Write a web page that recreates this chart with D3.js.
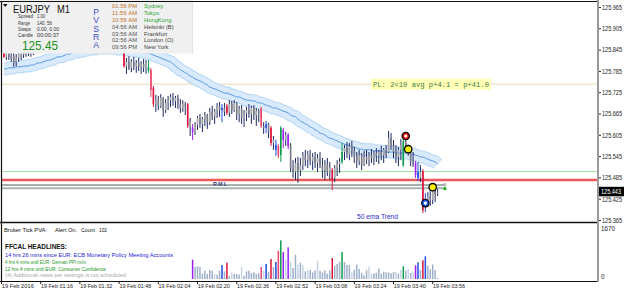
<!DOCTYPE html>
<html>
<head>
<meta charset="utf-8">
<script src="https://cdnjs.cloudflare.com/ajax/libs/d3/7.8.5/d3.min.js"></script>
<style>
  body { margin: 0; background: #fff; }
  svg { display: block; font-family: "Liberation Sans", Arial, sans-serif; }
</style>
</head>
<body>
<svg id="chart" width="625" height="294"></svg>
<script>
// M1 bars, one per minute from 01:01 to 03:58 : [open, high, low, close]
const ohlc = [
  [125.845,125.854,125.823,125.826],[125.826,125.848,125.817,125.840],[125.840,125.851,125.817,125.826],[125.831,125.845,125.812,125.820],
  [125.828,125.840,125.798,125.809],[125.812,125.834,125.800,125.823],[125.823,125.845,125.812,125.834],[125.831,125.848,125.817,125.840],
  [125.840,125.851,125.823,125.831],[125.834,125.854,125.826,125.845],[125.845,125.857,125.828,125.837],[125.840,125.859,125.826,125.851],
  [125.851,125.862,125.831,125.857],[125.857,125.873,125.845,125.865],[125.865,125.879,125.854,125.871],[125.871,125.888,125.859,125.879],
  [125.879,125.893,125.865,125.885],[125.885,125.902,125.871,125.893],[125.893,125.899,125.868,125.879],[125.882,125.907,125.876,125.899],
  [125.899,125.913,125.885,125.904],[125.904,125.910,125.879,125.890],[125.890,125.918,125.888,125.910],[125.910,125.924,125.893,125.916],
  [125.916,125.930,125.899,125.907],[125.907,125.921,125.890,125.902],[125.902,125.927,125.896,125.918],[125.918,125.933,125.904,125.924],
  [125.924,125.935,125.907,125.913],[125.913,125.930,125.896,125.904],[125.904,125.924,125.890,125.899],[125.899,125.918,125.885,125.910],
  [125.910,125.927,125.899,125.918],[125.918,125.933,125.904,125.927],[125.927,125.938,125.907,125.916],[125.916,125.930,125.899,125.907],
  [125.907,125.924,125.888,125.896],[125.896,125.916,125.882,125.902],[125.902,125.918,125.885,125.893],[125.893,125.913,125.876,125.885],
  [125.885,125.907,125.873,125.899],[125.899,125.916,125.882,125.890],[125.890,125.910,125.871,125.879],[125.879,125.902,125.865,125.888],
  [125.888,125.904,125.868,125.876],[125.876,125.896,125.859,125.868],[125.868,125.890,125.854,125.873],[125.873,125.893,125.851,125.859],
  [125.859,125.879,125.845,125.854],[125.854,125.862,125.795,125.800],[125.800,125.823,125.778,125.812],[125.812,125.828,125.789,125.795],
  [125.795,125.820,125.783,125.812],[125.812,125.826,125.789,125.800],[125.800,125.817,125.781,125.809],[125.809,125.823,125.786,125.798],
  [125.798,125.814,125.778,125.806],[125.806,125.820,125.783,125.795],[125.795,125.817,125.778,125.809],[125.786,125.817,125.781,125.798],
  [125.789,125.795,125.713,125.733],[125.738,125.744,125.685,125.693],[125.693,125.719,125.671,125.704],[125.704,125.716,125.676,125.688],
  [125.688,125.721,125.682,125.710],[125.710,125.713,125.657,125.676],[125.676,125.707,125.668,125.696],[125.696,125.716,125.676,125.704],
  [125.704,125.721,125.685,125.713],[125.713,125.724,125.688,125.702],[125.702,125.716,125.682,125.710],[125.710,125.719,125.679,125.693],
  [125.693,125.707,125.668,125.682],[125.682,125.704,125.671,125.693],[125.693,125.699,125.662,125.688],[125.693,125.696,125.626,125.631],
  [125.631,125.654,125.603,125.642],[125.626,125.637,125.592,125.614],[125.614,125.642,125.606,125.634],[125.634,125.659,125.620,125.654],
  [125.654,125.665,125.626,125.637],[125.637,125.657,125.614,125.651],[125.651,125.671,125.631,125.662],[125.662,125.665,125.623,125.642],
  [125.642,125.682,125.634,125.671],[125.671,125.688,125.648,125.659],[125.659,125.679,125.637,125.673],[125.673,125.696,125.654,125.688],
  [125.688,125.699,125.657,125.676],[125.676,125.693,125.642,125.682],[125.682,125.696,125.659,125.671],[125.688,125.693,125.662,125.668],
  [125.668,125.704,125.657,125.693],[125.693,125.702,125.665,125.676],[125.676,125.704,125.671,125.696],[125.696,125.699,125.648,125.665],
  [125.665,125.688,125.642,125.679],[125.679,125.690,125.637,125.654],[125.654,125.676,125.628,125.668],[125.668,125.685,125.645,125.676],
  [125.676,125.693,125.654,125.665],[125.665,125.688,125.637,125.682],[125.682,125.690,125.648,125.662],[125.662,125.682,125.631,125.673],
  [125.673,125.679,125.642,125.668],[125.682,125.685,125.626,125.631],[125.631,125.642,125.609,125.626],[125.626,125.645,125.611,125.637],
  [125.637,125.640,125.597,125.614],[125.626,125.631,125.575,125.583],[125.583,125.603,125.564,125.592],[125.578,125.592,125.547,125.564],
  [125.575,125.580,125.541,125.549],[125.549,125.631,125.530,125.626],[125.620,125.626,125.569,125.592],[125.592,125.614,125.575,125.606],
  [125.606,125.611,125.566,125.575],[125.575,125.583,125.502,125.513],[125.513,125.535,125.485,125.502],[125.502,125.541,125.479,125.527],
  [125.527,125.544,125.471,125.507],[125.507,125.541,125.490,125.521],[125.521,125.558,125.507,125.547],[125.547,125.564,125.518,125.535],
  [125.535,125.561,125.513,125.552],[125.552,125.564,125.521,125.533],[125.533,125.555,125.507,125.544],[125.544,125.558,125.513,125.527],
  [125.527,125.552,125.502,125.541],[125.541,125.558,125.513,125.521],[125.521,125.541,125.485,125.507],[125.507,125.535,125.479,125.524],
  [125.524,125.541,125.490,125.502],[125.502,125.530,125.479,125.513],[125.507,125.513,125.451,125.479],[125.485,125.521,125.473,125.513],
  [125.513,125.535,125.490,125.524],[125.524,125.541,125.499,125.530],[125.530,125.583,125.524,125.558],[125.558,125.578,125.535,125.569],
  [125.569,125.586,125.541,125.552],[125.552,125.583,125.535,125.575],[125.575,125.589,125.544,125.561],[125.561,125.572,125.527,125.544],
  [125.544,125.558,125.513,125.533],[125.533,125.564,125.521,125.549],[125.549,125.555,125.507,125.524],[125.524,125.561,125.518,125.544],
  [125.544,125.564,125.524,125.535],[125.535,125.558,125.518,125.549],[125.549,125.566,125.527,125.541],[125.541,125.561,125.521,125.555],
  [125.555,125.569,125.530,125.547],[125.547,125.564,125.524,125.558],[125.558,125.575,125.535,125.549],[125.549,125.569,125.527,125.564],
  [125.564,125.578,125.541,125.552],[125.558,125.617,125.555,125.597],[125.597,125.611,125.564,125.575],[125.575,125.592,125.541,125.558],
  [125.558,125.578,125.527,125.544],[125.544,125.572,125.518,125.564],[125.564,125.595,125.535,125.578],[125.521,125.597,125.516,125.589],
  [125.589,125.597,125.558,125.569],[125.569,125.578,125.547,125.558],[125.558,125.564,125.518,125.530],[125.530,125.558,125.516,125.524],
  [125.527,125.533,125.485,125.493],[125.502,125.530,125.476,125.485],[125.485,125.521,125.473,125.502],[125.504,125.510,125.386,125.394],
  [125.409,125.442,125.389,125.423],[125.423,125.445,125.403,125.434],[125.434,125.451,125.406,125.423],[125.423,125.465,125.411,125.448],
  [125.448,125.456,125.417,125.440],[125.440,125.454,125.434,125.443]
];

// 50 ema, one value per bar
const ema50 = [
  125.792,125.792,125.795,125.795,125.795,125.798,125.798,125.798,125.800,125.800,125.800,125.803,125.803,
  125.806,125.809,125.809,125.812,125.814,125.817,125.817,125.820,125.823,125.826,125.826,125.828,
  125.831,125.834,125.834,125.837,125.840,125.840,125.842,125.842,125.845,125.845,125.848,125.848,125.848,125.851,125.851,
  125.851,125.851,125.851,125.851,125.851,125.851,125.851,125.848,125.848,125.848,125.845,125.845,125.845,125.842,125.842,
  125.842,125.840,125.840,125.837,125.837,125.834,125.831,
  125.828,125.826,125.823,125.820,125.817,125.814,125.812,125.806,125.800,125.795,125.789,
  125.786,125.781,125.778,125.772,125.769,125.764,125.761,125.758,125.755,125.750,125.747,125.741,
  125.738,125.736,125.733,125.730,125.727,125.724,125.724,125.721,125.719,125.716,125.713,125.713,125.710,125.707,125.704,
  125.704,125.702,125.702,125.699,125.696,125.696,125.693,125.690,125.688,125.685,
  125.682,125.682,125.679,125.676,125.673,125.671,125.668,125.662,125.659,125.657,125.651,125.645,
  125.642,125.637,125.634,125.628,125.626,125.620,125.617,125.611,125.609,125.606,125.600,125.597,
  125.595,125.592,125.589,125.586,125.583,125.580,125.578,125.575,125.572,125.572,125.569,125.566,125.566,125.564,125.564,125.564,
  125.564,125.561,125.561,125.561,125.561,125.558,125.558,125.558,125.558,125.558,125.555,125.555,125.555,125.555,125.555,125.555,
  125.552,125.552,125.549,125.547,125.544,125.544,125.541,125.538,125.535,125.533,125.530,125.524
];

// PVA classes (bar minute, class): r red climax, k red rising, g green climax, p purple, b blue, l light volume
const pvaBars = [[1,'r'],[50,'r'],[60,'g'],[61,'k'],[62,'r'],[76,'r'],[78,'p'],[87,'l'],[90,'b'],[92,'r'],[94,'l'],
  [98,'l'],[106,'k'],[107,'l'],[108,'b'],[110,'r'],[112,'b'],[113,'k'],[114,'g'],[115,'p'],[116,'l'],[117,'p'],
  [118,'l'],[121,'l'],[123,'l'],[125,'l'],[129,'l'],[135,'r'],[139,'g'],[143,'l'],[150,'l'],[151,'l'],[161,'l'],
  [163,'l'],[164,'g'],[166,'l'],[168,'l'],[169,'p'],[170,'b'],[172,'r'],[173,'b']];

// tick volume from bar 78 to bar 178
const volStart = 78;
const tickVolume = [633,393,415,393,175,273,164,295,273,164,142,273,458,251,535,98,218,164,164,142,
  382,98,251,273,196,218,164,186,393,273,491,240,655,393,557,917,1266,884,633,1037,
  579,360,797,469,535,458,251,295,295,218,284,601,273,218,273,175,284,688,437,491,
  568,884,557,458,448,218,306,469,328,196,120,284,404,175,175,207,339,175,240,218,
  218,186,229,229,175,295,415,273,328,196,251,448,546,295,611,742,437,317,480,295,33];

const signals = [[165,125.603,'red'],[166,125.566,'yellow'],[173,125.414,'blue'],[176,125.459,'yellow']];
const plLevel = 125.749, greenLevel = 125.503, redLevel = 125.479, rmlLevel = 125.465, rmlLevel2 = 125.456;
const dollarBar = 181;
const lastPrice = 125.443;
const panelPrice = "125.45";

const priceTicks = [125.965,125.905,125.845,125.785,125.725,125.665,125.605,125.545,125.485,125.425,125.365];
const timeTicks = [0,16,32,48,64,80,96,112,128,144,160,176];
const timeLabels = ["19 Feb 2016","19 Feb 01:16","19 Feb 01:32","19 Feb 01:48","19 Feb 02:04","19 Feb 02:20",
  "19 Feb 02:36","19 Feb 02:52","19 Feb 03:08","19 Feb 03:24","19 Feb 03:40","19 Feb 03:56"];

const sessionTimes = ["01:56 PM","11:56 AM","10:56 AM","04:56 AM","03:56 AM","02:56 AM","09:56 PM"];
const sessionCities = ["Sydney","Tokyo","HongKong","Helsinki  (B)","Frankfurt","London  (O)","New York"];
const sessionOpen = [true,true,true,false,false,false,false];
const infoLabels = ["Spread","Range","Swaps","Candle"];
const infoValues = ["1.00","140, 56","0.00, 0.00","00:00:37"];
const headlines = [
  "14 hrs 26 mins since EUR: ECB Monetary Policy Meeting Accounts",
  "4 hrs 4 mins until EUR: German PPI m/m",
  "12 hrs 4 mins until EUR: Consumer Confidence",
  "(4)  Additional news per settings is not scheduled"
];

// text widths
const infoLabelW = [15, 12, 13, 15], infoValueW = [8, 15, 22, 22];
const headlineStyle = [["#2323d8",168],["#179317",81],["#179317",101],["#a8a8a8",121]];

const svg = d3.select("#chart");
const x = d3.scaleLinear().domain([0, 178]).range([1.5, 437.6]);
const y = d3.scaleLinear().domain([125.365, 125.965]).range([220.5, 7.5]);
const yv = d3.scaleLinear().domain([0, 1670]).range([279, 228]);

const pvaColor = { r: "#dc143c", k: "#e9456a", g: "#0a9e4c", p: "#a11ff0", b: "#1f4fe0" };
const pvaOf = new Map(pvaBars);

svg.append("rect").attr("width", 625).attr("height", 294).attr("fill", "#fff");
svg.append("defs").append("clipPath").attr("id", "mainClip")
  .append("rect").attr("x", 2).attr("y", 2).attr("width", 595).attr("height", 219);
const main = svg.append("g").attr("clip-path", "url(#mainClip)");

// horizontal levels
function level(p, x2, color, w) {
  main.append("line").attr("x1", 2).attr("x2", x2).attr("y1", y(p)).attr("y2", y(p))
    .attr("stroke", color).attr("stroke-width", w);
}
level(plLevel, 597, "#e8dcae", 1);
level(greenLevel, 597, "#9fe39f", 1);
level(redLevel, 597, "#f7b0b0", 3);
level(redLevel, 597, "#ee3b3b", 1.5);
level(rmlLevel2, x(dollarBar), "#aab6b6", 2);
level(rmlLevel, x(dollarBar), "#4e5e5e", 1);

// ema band
const emaLine = d3.line().x((d, i) => x(i + 1)).y(d => y(d)).curve(d3.curveMonotoneX);
main.append("path").datum(ema50).attr("d", emaLine).attr("fill", "none")
  .attr("stroke", "#b5d6f3").attr("stroke-width", 13);
main.append("path").datum(ema50).attr("d", emaLine).attr("fill", "none")
  .attr("stroke", "#d8eafb").attr("stroke-width", 11);
main.append("path").datum(ema50).attr("d", emaLine).attr("fill", "none")
  .attr("stroke", "#4a8fe0").attr("stroke-width", 0.9);

// candles
const bars = ohlc.map((d, i) => ({ m: i + 1, o: d[0], h: d[1], l: d[2], c: d[3], cls: pvaOf.get(i + 1) || "n" }));
const cg = main.append("g");
cg.selectAll("line").data(bars).join("line")
  .attr("x1", d => x(d.m)).attr("x2", d => x(d.m))
  .attr("y1", d => y(d.h)).attr("y2", d => y(d.l))
  .attr("stroke", d => pvaColor[d.cls] || "#1e2a66").attr("stroke-width", 1);
cg.selectAll("rect").data(bars).join("rect")
  .attr("x", d => x(d.m) - 0.8).attr("width", 1.6)
  .attr("y", d => y(Math.max(d.o, d.c)))
  .attr("height", d => Math.max(1, Math.abs(y(d.o) - y(d.c))))
  .attr("fill", d => pvaColor[d.cls] || (d.c >= d.o ? "#a6a6a6" : "#7c7c8a"));

// signal circles
main.append("line").attr("x1", x(173)).attr("y1", y(125.414)).attr("x2", x(176)).attr("y2", y(125.459))
  .attr("stroke", "#7fb2e8").attr("stroke-width", 0.8).attr("stroke-dasharray", "1.5,1.5");
signals.forEach(([m, p, kind]) => {
  const g = main.append("g").attr("transform", `translate(${x(m)},${y(p)})`);
  g.append("circle").attr("r", 4.3).attr("fill", "#000");
  if (kind === "yellow") {
    g.append("circle").attr("r", 3).attr("fill", "#ffee00");
  } else {
    g.append("circle").attr("r", 3.1).attr("fill", kind === "red" ? "#e01010" : "#1f5fe8");
    g.append("circle").attr("r", 1.6).attr("fill", "#fff");
  }
});
main.append("circle").attr("cx", x(dollarBar)).attr("cy", y(rmlLevel2) - 3.5).attr("r", 1.3)
  .attr("fill", "none").attr("stroke", "#9a9a9a").attr("stroke-width", 0.7);
main.append("circle").attr("cx", x(dollarBar)).attr("cy", y(rmlLevel2) + 0.5).attr("r", 1.6).attr("fill", "#18b018");

// chart labels
main.append("rect").attr("x", 371).attr("y", y(plLevel) - 5.5).attr("width", 120).attr("height", 11).attr("fill", "#ffffb8");
main.append("text").attr("x", 373).attr("y", y(plLevel) + 2.5).attr("font-family", "Liberation Mono, monospace")
  .attr("font-size", 7.5).attr("fill", "#3f7d3f").attr("textLength", 116).attr("lengthAdjust", "spacingAndGlyphs")
  .text("PL: 2<10 avg p+4.1 = p+41.0");
main.append("text").attr("x", 213).attr("y", y(rmlLevel) + 1).attr("font-size", 5.5).attr("font-weight", "bold")
  .attr("fill", "#3b3b7a").attr("textLength", 14).text("RML");
main.append("text").attr("x", 357).attr("y", 218.5).attr("font-size", 7).attr("fill", "#2a2ac8")
  .attr("textLength", 41).attr("lengthAdjust", "spacingAndGlyphs").text("50 ema Trend");

// info panel
const panel = svg.append("g");
panel.append("rect").attr("x", 0).attr("y", 0).attr("width", 192.5).attr("height", 53.5).attr("fill", "#f0f0f0");
panel.append("line").attr("x1", 192.5).attr("x2", 192.5).attr("y1", 2).attr("y2", 53.5).attr("stroke", "#e2e2ec");
panel.append("path").attr("d", "M3,4 L7.5,4 L5.25,7 Z").attr("fill", "#111");
panel.append("text").attr("x", 13).attr("y", 12.5).attr("font-size", 11).attr("fill", "#111")
  .attr("textLength", 37).attr("lengthAdjust", "spacingAndGlyphs").text("EURJPY");
panel.append("text").attr("x", 57).attr("y", 12.5).attr("font-size", 11).attr("fill", "#111")
  .attr("textLength", 13).attr("lengthAdjust", "spacingAndGlyphs").text("M1");
infoLabels.forEach((k, i) => {
  const ty = 18.2 + i * 6.4;
  panel.append("text").attr("x", 18).attr("y", ty).attr("font-size", 5.4).attr("fill", "#333")
    .attr("textLength", infoLabelW[i]).attr("lengthAdjust", "spacingAndGlyphs").text(k);
  panel.append("text").attr("x", 37).attr("y", ty).attr("font-size", 5.4).attr("fill", "#333")
    .attr("textLength", infoValueW[i]).attr("lengthAdjust", "spacingAndGlyphs").text(infoValues[i]);
});
panel.append("text").attr("x", 22).attr("y", 50).attr("font-size", 13).attr("fill", "#1d8f1d")
  .attr("textLength", 36).attr("lengthAdjust", "spacingAndGlyphs").text(panelPrice);
panel.append("text").attr("x", 96).attr("y", 7)
  .attr("writing-mode", "tb").style("text-orientation", "upright")
  .attr("font-size", 8.6).attr("letter-spacing", -1.7).attr("fill", "#3d4fcc").text("PVSRA");
sessionTimes.forEach((t, i) => {
  const ty = 8.3 + i * 6.8;
  panel.append("text").attr("x", 112).attr("y", ty).attr("font-size", 5.8)
    .attr("fill", sessionOpen[i] ? "#c0702a" : "#555").attr("textLength", 25).text(t);
  panel.append("text").attr("x", 144).attr("y", ty).attr("font-size", 5.8)
    .attr("fill", sessionOpen[i] ? "#1f9f2f" : "#444").text(sessionCities[i]);
});

// frames
svg.append("line").attr("x1", 0).attr("x2", 598).attr("y1", 1.5).attr("y2", 1.5).attr("stroke", "#111").attr("stroke-width", 1.2);
svg.append("line").attr("x1", 1.5).attr("x2", 1.5).attr("y1", 1).attr("y2", 282).attr("stroke", "#111").attr("stroke-width", 1.2);
svg.append("line").attr("x1", 0).attr("x2", 598).attr("y1", 222.5).attr("y2", 222.5).attr("stroke", "#111").attr("stroke-width", 1.6);
svg.append("line").attr("x1", 0).attr("x2", 598).attr("y1", 281.5).attr("y2", 281.5).attr("stroke", "#111").attr("stroke-width", 1.2);
svg.append("line").attr("x1", 598).attr("x2", 598).attr("y1", 0).attr("y2", 282).attr("stroke", "#9a9a9a").attr("stroke-width", 2);

// price axis
const pa = svg.append("g");
priceTicks.forEach(p => {
  pa.append("line").attr("x1", 599).attr("x2", 601).attr("y1", y(p)).attr("y2", y(p)).attr("stroke", "#222");
  pa.append("text").attr("x", 602).attr("y", y(p) + 2.3).attr("font-size", 6.3).attr("fill", "#222")
    .attr("textLength", 20).attr("lengthAdjust", "spacingAndGlyphs").text(p.toFixed(3));
});
pa.append("rect").attr("x", 599).attr("y", y(lastPrice) - 6).attr("width", 25).attr("height", 9.5).attr("fill", "#000");
pa.append("text").attr("x", 601).attr("y", y(lastPrice) + 1.5).attr("font-size", 6.3).attr("fill", "#fff")
  .attr("textLength", 20).attr("lengthAdjust", "spacingAndGlyphs").text(lastPrice.toFixed(3));

// volume window
const vol = svg.append("g");
vol.selectAll("rect").data(tickVolume).join("rect")
  .attr("x", (d, i) => x(volStart + i) - 0.75).attr("width", 1.5)
  .attr("y", d => yv(d)).attr("height", d => yv(0) - yv(d))
  .attr("fill", (d, i) => {
    const cls = pvaOf.get(volStart + i) || "n";
    return pvaColor[cls] || (cls === "l" ? "#c7d3e4" : "#9eb0ca");
  });
vol.append("text").attr("x", 601).attr("y", 230.5).attr("font-size", 6.3).attr("fill", "#222").text("1670");
vol.append("text").attr("x", 601).attr("y", 279).attr("font-size", 6.3).attr("fill", "#222").text("0");
vol.append("text").attr("x", 4).attr("y", 232).attr("font-size", 6).attr("fill", "#111")
  .attr("textLength", 43).attr("lengthAdjust", "spacingAndGlyphs").text("Broker Tick PVA:");
vol.append("text").attr("x", 55).attr("y", 232).attr("font-size", 6).attr("fill", "#111")
  .attr("textLength", 22).attr("lengthAdjust", "spacingAndGlyphs").text("Alert On.");
vol.append("text").attr("x", 81).attr("y", 232).attr("font-size", 6).attr("fill", "#111")
  .attr("textLength", 14).attr("lengthAdjust", "spacingAndGlyphs").text("Count");
vol.append("text").attr("x", 99).attr("y", 232).attr("font-size", 6).attr("fill", "#111")
  .attr("textLength", 8).attr("lengthAdjust", "spacingAndGlyphs").text("102");
vol.append("text").attr("x", 5).attr("y", 249).attr("font-size", 6.3).attr("fill", "#111").attr("font-weight", "bold")
  .attr("textLength", 62).attr("lengthAdjust", "spacingAndGlyphs").text("FFCAL HEADLINES:");
headlines.forEach((s, i) => {
  vol.append("text").attr("x", 5).attr("y", 257 + i * 6.8).attr("font-size", 6).attr("fill", headlineStyle[i][0])
    .attr("textLength", headlineStyle[i][1]).attr("lengthAdjust", "spacingAndGlyphs").text(s);
});

// time axis
timeTicks.forEach((t, i) => {
  svg.append("line").attr("x1", x(t)).attr("x2", x(t)).attr("y1", 282).attr("y2", 284).attr("stroke", "#222");
  svg.append("text").attr("x", x(t) + 0.3).attr("y", 288).attr("font-size", 6.2).attr("fill", "#222")
    .attr("textLength", 32).attr("lengthAdjust", "spacingAndGlyphs").text(timeLabels[i]);
});
</script>
</body>
</html>
